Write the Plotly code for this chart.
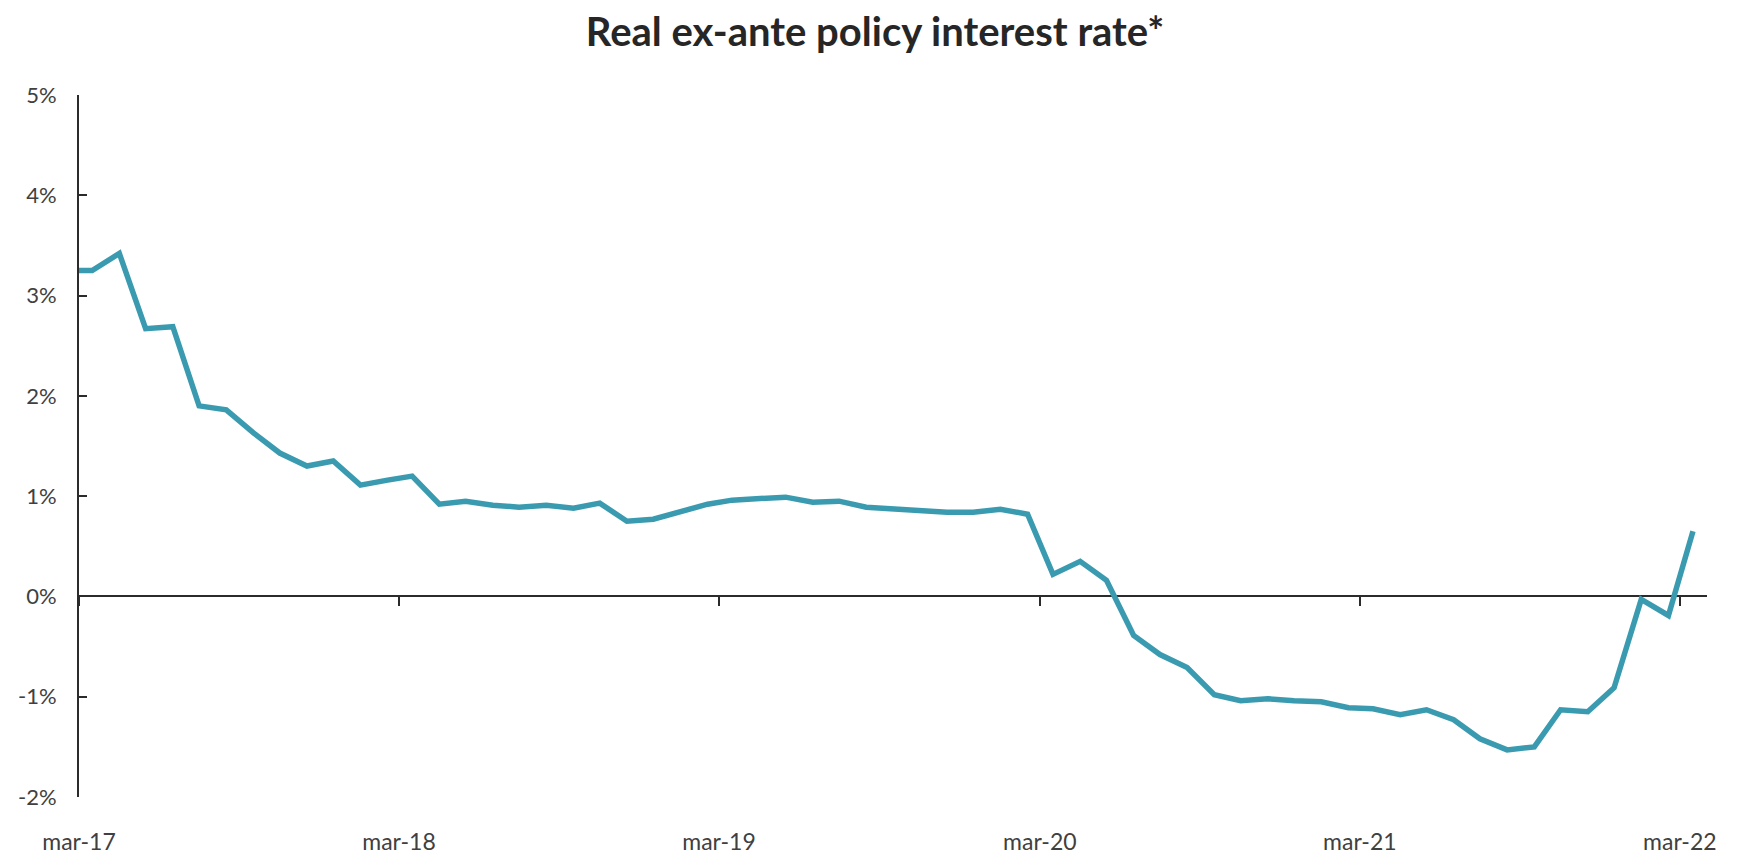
import pandas as pd
import plotly.graph_objects as go

# Monthly observations, Feb-2017 .. Mar-2022 (first one falls left of the axis and is clipped)
months = pd.date_range("2017-02-01", periods=62, freq="MS")
rate = [3.25, 3.25, 3.42, 2.67, 2.69, 1.90, 1.86, 1.63, 1.43, 1.30, 1.35, 1.11, 1.16,
        1.20, 0.92, 0.95, 0.91, 0.89, 0.91, 0.88, 0.93, 0.75, 0.77, 0.84, 0.92,
        0.96, 0.98, 0.99, 0.94, 0.95, 0.89, 0.87, 0.85, 0.84, 0.84, 0.87, 0.82,
        0.22, 0.35, 0.16, -0.39, -0.58, -0.71, -0.98, -1.04, -1.02, -1.04, -1.05, -1.11,
        -1.12, -1.18, -1.13, -1.23, -1.42, -1.53, -1.50, -1.13, -1.15, -0.91, -0.03, -0.19,
        0.65]
tick_dates = ["2017-03-01", "2018-03-01", "2019-03-01", "2020-03-01", "2021-03-01", "2022-03-01"]
tick_labels = ["mar-17", "mar-18", "mar-19", "mar-20", "mar-21", "mar-22"]
y_ticks = [-2, -1, 0, 1, 2, 3, 4, 5]
y_labels = ["-2%", "-1%", "0%", "1%", "2%", "3%", "4%", "5%"]

x_dates = months + pd.Timedelta(days=15)
x_range = ["2017-03-01", "2022-04-01"]

FONT = "Lato"
AX = "#2b2b2b"

fig = go.Figure()
fig.add_trace(go.Scatter(x=x_dates, y=rate, mode="lines",
                         line=dict(color="#3a9bb0", width=5.5), showlegend=False,
                         hoverinfo="skip"))
# invisible copy to host the zero-line axis with ticks
fig.add_trace(go.Scatter(x=x_dates, y=rate, mode="lines", xaxis="x2",
                         line=dict(color="rgba(0,0,0,0)", width=0), showlegend=False,
                         hoverinfo="skip"))

fig.update_layout(
    width=1750, height=854,
    margin=dict(l=79, r=43, t=95, b=57),
    paper_bgcolor="white", plot_bgcolor="white",
    title=dict(text="<b>Real ex-ante policy interest rate*</b>", x=0.5, xanchor="center",
               y=0.963, yanchor="middle",
               font=dict(family=FONT, size=40, color="#262626")),
    font=dict(family=FONT, color="#404040"),
    xaxis=dict(type="date", range=x_range, tickvals=tick_dates, ticktext=tick_labels,
               showline=False, showgrid=False, zeroline=False, automargin=False,
               ticks="outside", ticklen=24, tickcolor="rgba(0,0,0,0)",
               tickfont=dict(family=FONT, size=23, color="#404040")),
    xaxis2=dict(type="date", range=x_range, tickvals=tick_dates, overlaying="x",
                anchor="free", position=2/7, side="bottom", automargin=False,
                showline=True, linecolor=AX, linewidth=2,
                ticks="outside", ticklen=9, tickwidth=2, tickcolor=AX,
                showticklabels=False, showgrid=False, zeroline=False,
                layer="below traces"),
    yaxis=dict(range=[-2, 5], tickvals=y_ticks, ticktext=y_labels, automargin=False,
               showline=True, linecolor=AX, linewidth=2,
               ticks="inside", ticklen=8, tickwidth=2, tickcolor=AX,
               ticklabelstandoff=16,
               showgrid=False, zeroline=False,
               tickfont=dict(family=FONT, size=22, color="#404040")),
)

fig.write_html("out.html")
